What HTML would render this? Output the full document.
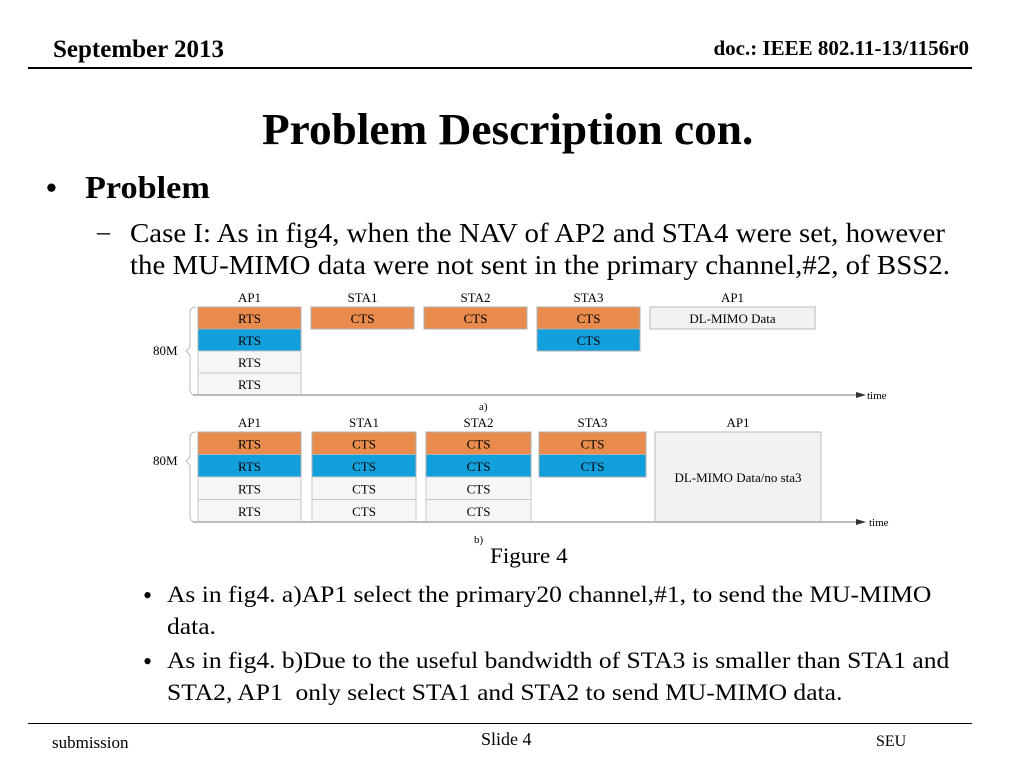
<!DOCTYPE html>
<html><head><meta charset="utf-8">
<style>
body{margin:0;width:1024px;height:768px;background:#fff;position:relative;overflow:hidden;font-family:"Liberation Serif",serif;color:#000}
.a{position:absolute;white-space:nowrap;transform-origin:0 0}
</style></head><body>
<div class="a" style="left:53px;top:36px;font-size:25px;font-weight:bold">September 2013</div>
<div class="a" style="right:55px;top:36px;font-size:21px;font-weight:bold">doc.: IEEE 802.11-13/1156r0</div>
<div class="a" style="left:28px;top:67px;width:944px;height:2px;background:#000"></div>
<div class="a" style="left:262px;top:104px;font-size:44px;font-weight:bold;transform:scaleX(1.03)">Problem Description con.</div>
<div class="a" style="left:46px;top:170px;font-size:31px;font-weight:bold">•</div>
<div class="a" style="left:85px;top:169px;font-size:32px;font-weight:bold;transform:scaleX(1.07)">Problem</div>
<div class="a" style="left:97px;top:217px;font-size:26px">–</div>
<div class="a" style="left:130px;top:217px;font-size:27px;line-height:32px;transform:scaleX(1.07)">Case I: As in fig4, when the NAV of AP2 and STA4 were set, however<br>the MU-MIMO data were not sent in the primary channel,#2, of BSS2.</div>
<svg class="a" style="left:0;top:0" width="1024" height="768" id="fig"></svg>
<div class="a" style="left:490px;top:543px;font-size:22px;transform:scaleX(1.05)">Figure 4</div>
<div class="a" style="left:143px;top:581px;font-size:26px">•</div>
<div class="a" style="left:167px;top:579px;font-size:23px;line-height:32px;transform:scaleX(1.11)">As in fig4. a)AP1 select the primary20 channel,#1, to send the MU-MIMO<br>data.</div>
<div class="a" style="left:143px;top:647px;font-size:26px">•</div>
<div class="a" style="left:167px;top:645px;font-size:23px;line-height:32px;transform:scaleX(1.11)">As in fig4. b)Due to the useful bandwidth of STA3 is smaller than STA1 and<br>STA2, AP1&nbsp; only select STA1 and STA2 to send MU-MIMO data.</div>
<div class="a" style="left:28px;top:723px;width:944px;height:1px;background:#000"></div>
<div class="a" style="left:52px;top:733px;font-size:17px">submission</div>
<div class="a" style="left:481px;top:729px;font-size:18px">Slide 4</div>
<div class="a" style="left:876px;top:733px;font-size:16px">SEU</div>
<script>
const colLabels=["AP1","STA1","STA2","STA3","AP1"];
const rowsA=[["o","b","w","w"],["o"],["o"],["o","b"]];
const rowsB=[["o","b","w","w"],["o","b","w","w"],["o","b","w","w"],["o","b"]];
const dataA="DL-MIMO Data", dataB="DL-MIMO Data/no sta3";
const svg=document.getElementById('fig');
const NS="http://www.w3.org/2000/svg";
const fills={o:"#E88B4D",b:"#12A0DC",w:"#F6F6F6"};
function mk(t,a,txt){const e=document.createElementNS(NS,t);for(const k in a)e.setAttribute(k,a[k]);if(txt!==undefined)e.textContent=txt;svg.appendChild(e);return e;}
function panel(rows,xs,ws,dl,dlRect,topY,rowH,axisY,labY,timeX,capTxt,capY,capX,mY,name){
  rows.forEach((col,ci)=>{
    col.forEach((k,ri)=>{
      const r=mk('rect',{x:xs[ci],y:topY+ri*rowH,width:ws[ci],height:rowH,fill:fills[k],stroke:k==='w'?'#c8c8c8':'#b0b0b0','stroke-width':1});
      
      
      const t=mk('text',{x:xs[ci]+ws[ci]/2,y:topY+ri*rowH+rowH/2+5,'text-anchor':'middle','font-size':13,'font-family':'Liberation Serif,serif'},ci===0?'RTS':'CTS');
      
      
    });
    const l=mk('text',{x:xs[ci]+ws[ci]/2,y:labY,'text-anchor':'middle','font-size':13,'font-family':'Liberation Serif,serif'},colLabels[ci]);
    
    
  });
  const d=mk('rect',{x:dlRect[0],y:dlRect[1],width:dlRect[2],height:dlRect[3],fill:'#F2F2F2',stroke:'#bbb'});
  
  
  mk('text',{x:dlRect[0]+dlRect[2]/2,y:dlRect[1]+dlRect[3]/2+5,'text-anchor':'middle','font-size':13,'font-family':'Liberation Serif,serif'},dl);
  mk('text',{x:dlRect[0]+dlRect[2]/2,y:labY,'text-anchor':'middle','font-size':13,'font-family':'Liberation Serif,serif'},colLabels[4]);
  const ax=mk('line',{x1:193,y1:axisY,x2:856,y2:axisY,stroke:'#bbb','stroke-width':2});
  
  
  mk('polygon',{points:`${856},${axisY-3} ${866},${axisY} ${856},${axisY+3}`,fill:'#333'});
  mk('text',{x:timeX,y:axisY+4,'font-size':11,'font-family':'Liberation Serif,serif'},'time');
  mk('path',{d:`M196 ${topY} Q190 ${topY} 190 ${topY+6} L190 ${mY-4} L186 ${mY} L190 ${mY+4} L190 ${axisY-6} Q190 ${axisY} 196 ${axisY}`,fill:'none',stroke:'#bbb'});
  mk('text',{x:153,y:mY+4,'font-size':13,'font-family':'Liberation Serif,serif'},'80M');
  mk('text',{x:capX,y:capY,'font-size':11,'font-family':'Liberation Serif,serif'},capTxt);
}
panel(rowsA,[198,311,424,537],[103,103,103,103],dataA,[650,307,165,22],307,22,395,302,867,'a)',410,479,351,'panel-a');
panel(rowsB,[198,312,426,539],[103,104,105,107],dataB,[655,432,166,90],432,22.5,522,427,869,'b)',543,474,461,'panel-b');
</script>
</body></html>
